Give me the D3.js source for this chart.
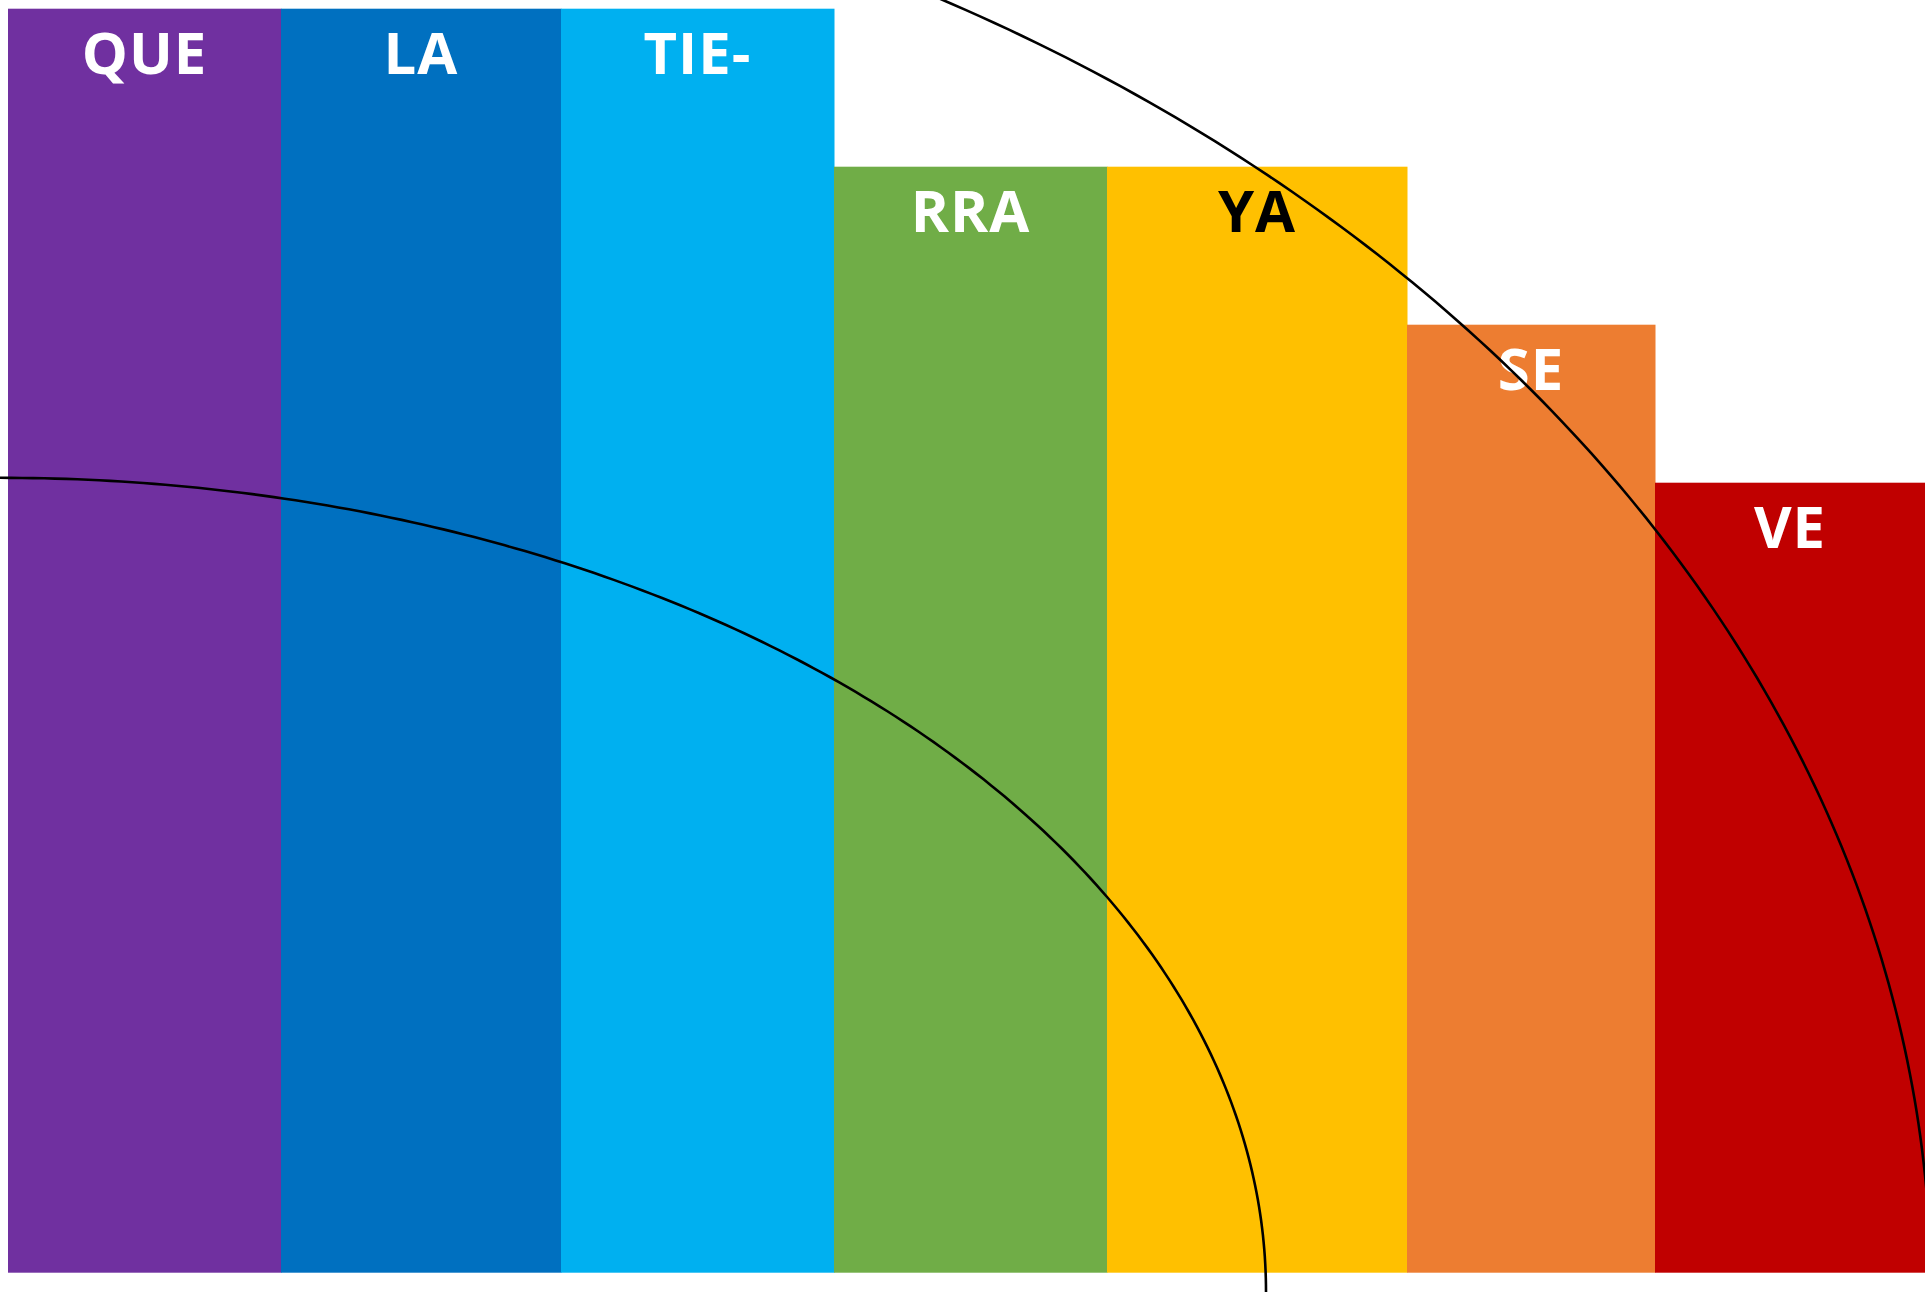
<!DOCTYPE html>
<html>
<head>
<meta charset="utf-8">
<script src="https://cdn.jsdelivr.net/npm/d3@7"></script>
<style>
  html, body { margin: 0; padding: 0; background: #ffffff; }
  svg { display: block; }
</style>
</head>
<body>
<svg id="chart" width="1925" height="1292"></svg>
<script>
// ---- data ----
const categories = ["QUE", "LA", "TIE-", "RRA", "YA", "SE", "VE"];
const values = [8, 8, 8, 7, 7, 6, 5];            // bar heights
const spans = [273, 280, 273, 273, 300, 248, 270]; // bar widths (relative units)
const colors = ["#7030A0", "#0070C0", "#00B0F0", "#70AD47", "#FFC000", "#ED7D31", "#C00000"];
const labelColors = ["#ffffff", "#ffffff", "#ffffff", "#ffffff", "#000000", "#ffffff", "#ffffff"];
// decorative quarter-ellipse arcs (data units: x in span units, y in value units)
const arcCenterX = [-8, -8];
const arcCenterY = [-0.122, -0.122];
const arcRadiusX = [1266, 1931];
const arcRadiusY = [5.153, 9.37];

// ---- layout ----
const total = d3.sum(spans);
const x = d3.scaleLinear().domain([0, total]).range([8, 1925]);
const y = d3.scaleLinear().domain([0, 8]).range([1272.7, 8.7]);

const starts = d3.cumsum([0].concat(spans)).slice(0, spans.length);
const bars = categories.map((c, i) => ({
  cat: c, v: values[i], x0: starts[i], x1: starts[i] + spans[i],
  color: colors[i], lc: labelColors[i]
}));

const svg = d3.select("#chart");

svg.append("g").selectAll("rect").data(bars).join("rect")
  .attr("x", d => x(d.x0))
  .attr("y", d => y(d.v))
  .attr("width", d => x(d.x1) - x(d.x0) + 0.5)
  .attr("height", d => y(0) - y(d.v))
  .attr("fill", d => d.color);

svg.append("g").selectAll("text").data(bars).join("text")
  .attr("x", d => (x(d.x0) + x(d.x1)) / 2)
  .attr("y", d => y(d.v) + 65)
  .attr("text-anchor", "middle")
  .attr("font-family", "'Open Sans', Lato, sans-serif")
  .attr("font-weight", 700)
  .attr("font-size", 58)
  .attr("letter-spacing", 1)
  .attr("fill", d => d.lc)
  .text(d => d.cat);

// arcs
const line = d3.line().x(p => x(p[0])).y(p => y(p[1]));
const arcs = arcCenterX.map((cx, i) => {
  return d3.range(0, 181).map(k => {
    const t = (k / 180) * Math.PI / 2;
    return [cx + arcRadiusX[i] * Math.sin(t), arcCenterY[i] + arcRadiusY[i] * Math.cos(t)];
  });
});
svg.append("g").selectAll("path").data(arcs).join("path")
  .attr("d", line)
  .attr("fill", "none")
  .attr("stroke", "#000")
  .attr("stroke-width", 2.6);
</script>
</body>
</html>
